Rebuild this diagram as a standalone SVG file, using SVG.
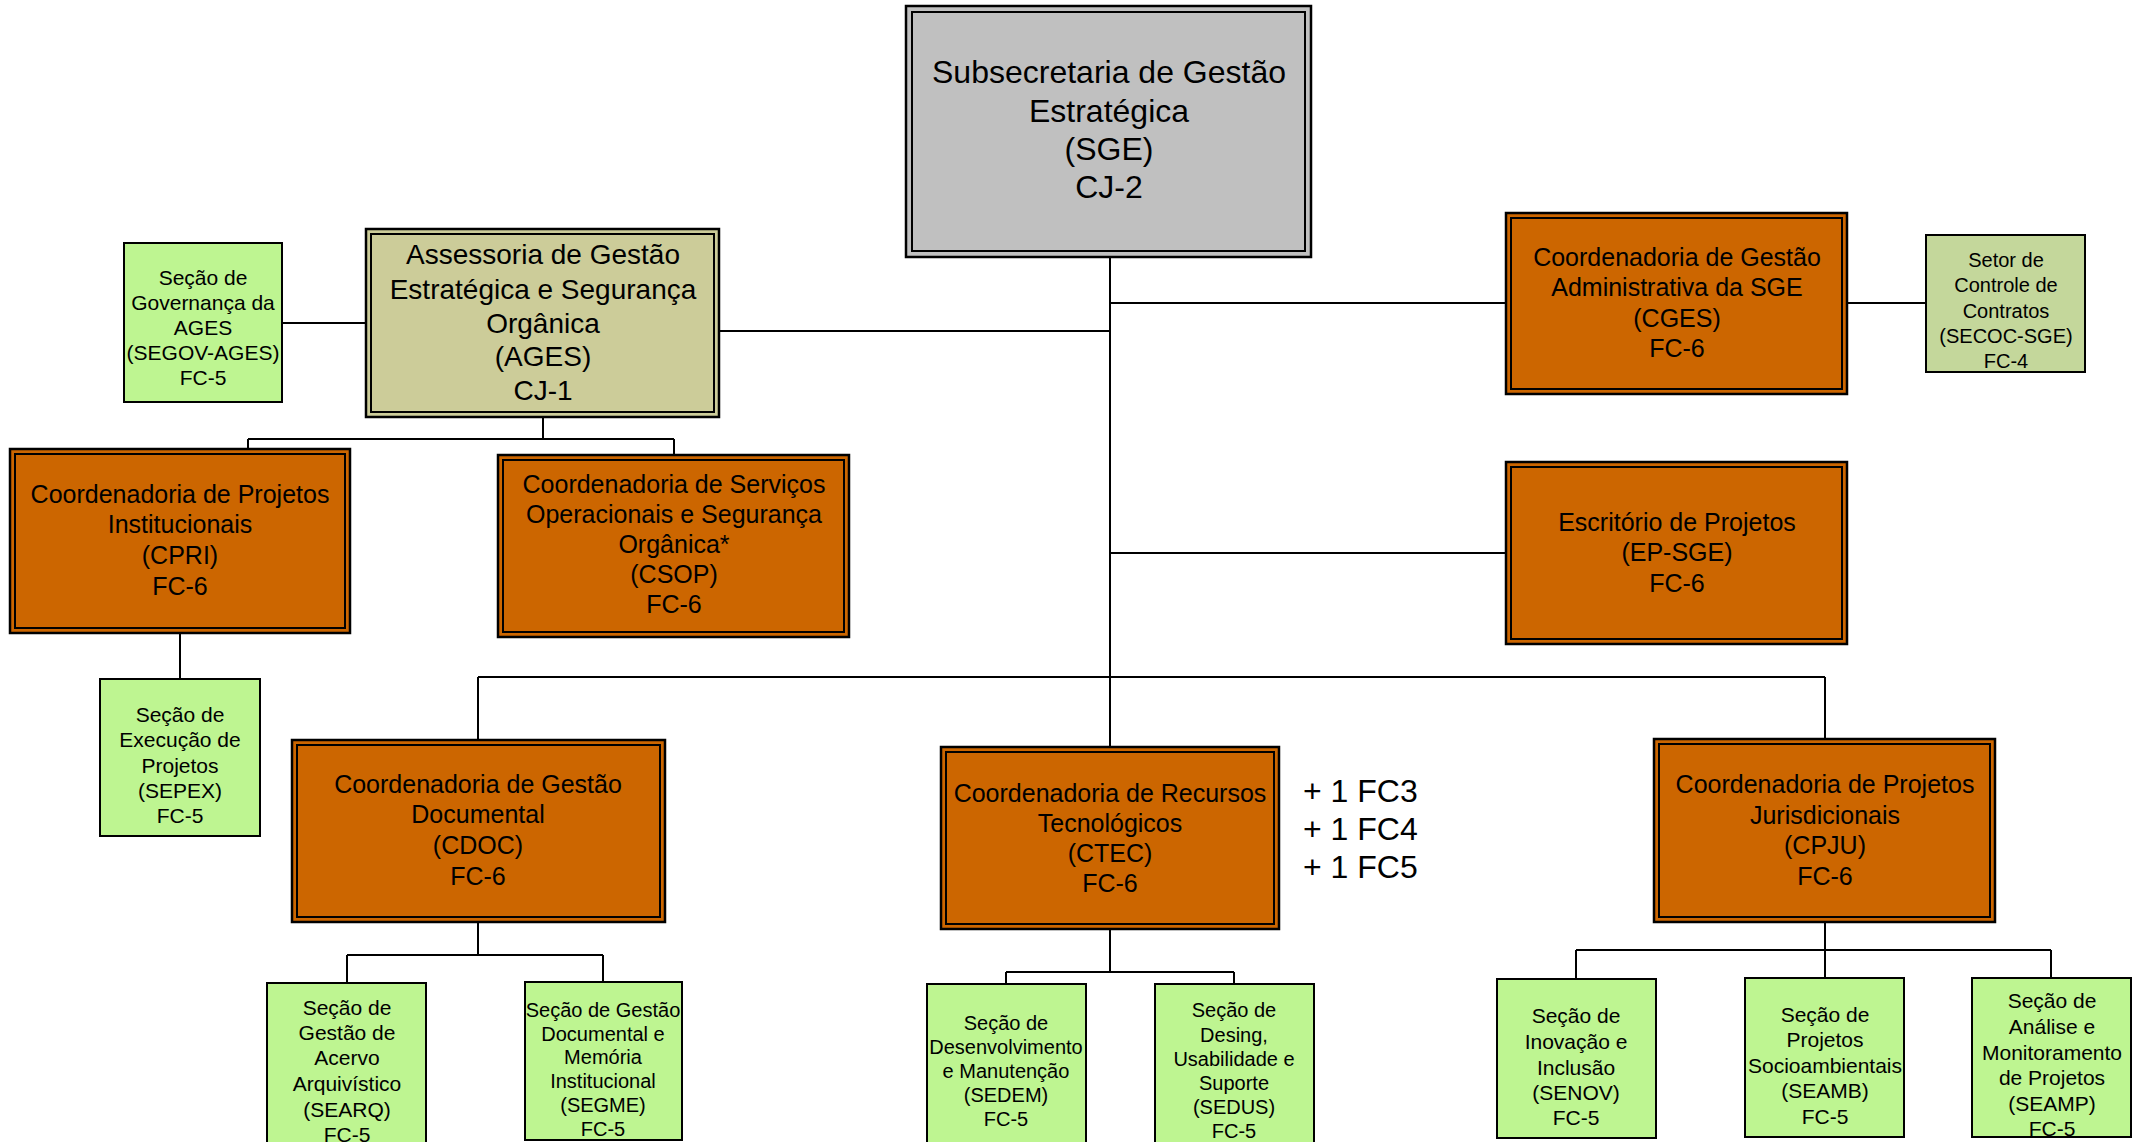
<svg xmlns="http://www.w3.org/2000/svg" width="2136" height="1142" viewBox="0 0 2136 1142">
<style>
text{font-family:"Liberation Sans",Arial,sans-serif;fill:#000;text-anchor:middle}
.con{fill:none;stroke:#000;stroke-width:2}
.out{stroke:#000;stroke-width:2.5}
.in{fill:none;stroke:#000;stroke-width:2}
.gray{fill:#C0C0C0}
.khaki{fill:#CCCC99}
.orange{fill:#CC6600}
.green{fill:#BEF591;stroke:#000;stroke-width:2}
.olive{fill:#C4D79B;stroke:#000;stroke-width:2}
.f32{font-size:32px}
.f28{font-size:28px}
.f25{font-size:25px}
.f21{font-size:21px}
.f20{font-size:20px}
</style>
<rect width="2136" height="1142" fill="#fff"/>
<g id="connectors">
<path class="con" d="M1110 257V747"/>
<path class="con" d="M719 331H1110"/>
<path class="con" d="M282 323H366"/>
<path class="con" d="M1110 303H1506M1847 303H1926"/>
<path class="con" d="M1110 553H1506"/>
<path class="con" d="M543 417V439M248 439H674M248 439V449M674 439V455"/>
<path class="con" d="M180 633V679"/>
<path class="con" d="M478 677H1825M478 677V740M1825 677V739"/>
<path class="con" d="M478 922V955M347 955H603M347 955V983M603 955V982"/>
<path class="con" d="M1110 929V972M1006 972H1234M1006 972V984M1234 972V984"/>
<path class="con" d="M1825 922V950M1576 950H2051M1576 950V979M1825 950V978M2051 950V978"/>
</g>
<g id="sge">
<rect class="out gray" x="906" y="6" width="405" height="251"/>
<rect class="in" x="912" y="12" width="393" height="239"/>
<text class="f32"><tspan x="1109" y="83">Subsecretaria de Gestão</tspan><tspan x="1109" y="122">Estratégica</tspan><tspan x="1109" y="160">(SGE)</tspan><tspan x="1109" y="198">CJ-2</tspan></text>
</g>
<g id="ages">
<rect class="out khaki" x="366" y="229" width="353" height="188"/>
<rect class="in" x="371" y="234" width="343" height="178"/>
<text class="f28"><tspan x="543" y="264">Assessoria de Gestão</tspan><tspan x="543" y="299">Estratégica e Segurança</tspan><tspan x="543" y="333">Orgânica</tspan><tspan x="543" y="366">(AGES)</tspan><tspan x="543" y="400">CJ-1</tspan></text>
</g>
<g id="segov">
<rect class="green" x="124" y="243" width="158" height="159"/>
<text class="f21"><tspan x="203" y="285">Seção de</tspan><tspan x="203" y="310">Governança da</tspan><tspan x="203" y="335">AGES</tspan><tspan x="203" y="360">(SEGOV-AGES)</tspan><tspan x="203" y="385">FC-5</tspan></text>
</g>
<g id="cges">
<rect class="out orange" x="1506" y="213" width="341" height="181"/>
<rect class="in" x="1511" y="218" width="331" height="171"/>
<text class="f25"><tspan x="1677" y="266">Coordenadoria de Gestão</tspan><tspan x="1677" y="296">Administrativa da SGE</tspan><tspan x="1677" y="327">(CGES)</tspan><tspan x="1677" y="357">FC-6</tspan></text>
</g>
<g id="secoc">
<rect class="olive" x="1926" y="235" width="159" height="137"/>
<text class="f20"><tspan x="2006" y="267">Setor de</tspan><tspan x="2006" y="292">Controle de</tspan><tspan x="2006" y="318">Contratos</tspan><tspan x="2006" y="343">(SECOC-SGE)</tspan><tspan x="2006" y="368">FC-4</tspan></text>
</g>
<g id="ep-sge">
<rect class="out orange" x="1506" y="462" width="341" height="182"/>
<rect class="in" x="1511" y="467" width="331" height="172"/>
<text class="f25"><tspan x="1677" y="531">Escritório de Projetos</tspan><tspan x="1677" y="561">(EP-SGE)</tspan><tspan x="1677" y="592">FC-6</tspan></text>
</g>
<g id="cpri">
<rect class="out orange" x="10" y="449" width="340" height="184"/>
<rect class="in" x="15" y="454" width="330" height="174"/>
<text class="f25"><tspan x="180" y="503">Coordenadoria de Projetos</tspan><tspan x="180" y="533">Institucionais</tspan><tspan x="180" y="564">(CPRI)</tspan><tspan x="180" y="595">FC-6</tspan></text>
</g>
<g id="csop">
<rect class="out orange" x="498" y="455" width="351" height="182"/>
<rect class="in" x="503" y="460" width="341" height="172"/>
<text class="f25"><tspan x="674" y="493">Coordenadoria de Serviços</tspan><tspan x="674" y="523">Operacionais e Segurança</tspan><tspan x="674" y="553">Orgânica*</tspan><tspan x="674" y="583">(CSOP)</tspan><tspan x="674" y="613">FC-6</tspan></text>
</g>
<g id="sepex">
<rect class="green" x="100" y="679" width="160" height="157"/>
<text class="f21"><tspan x="180" y="722">Seção de</tspan><tspan x="180" y="747">Execução de</tspan><tspan x="180" y="773">Projetos</tspan><tspan x="180" y="798">(SEPEX)</tspan><tspan x="180" y="823">FC-5</tspan></text>
</g>
<g id="cdoc">
<rect class="out orange" x="292" y="740" width="373" height="182"/>
<rect class="in" x="297" y="745" width="363" height="172"/>
<text class="f25"><tspan x="478" y="793">Coordenadoria de Gestão</tspan><tspan x="478" y="823">Documental</tspan><tspan x="478" y="854">(CDOC)</tspan><tspan x="478" y="885">FC-6</tspan></text>
</g>
<g id="ctec">
<rect class="out orange" x="941" y="747" width="338" height="182"/>
<rect class="in" x="946" y="752" width="328" height="172"/>
<text class="f25"><tspan x="1110" y="802">Coordenadoria de Recursos</tspan><tspan x="1110" y="832">Tecnológicos</tspan><tspan x="1110" y="862">(CTEC)</tspan><tspan x="1110" y="892">FC-6</tspan></text>
</g>
<g id="ctec-extra">
<text class="f32" style="text-anchor:start"><tspan x="1303" y="802">+ 1 FC3</tspan><tspan x="1303" y="840">+ 1 FC4</tspan><tspan x="1303" y="878">+ 1 FC5</tspan></text>
</g>
<g id="cpju">
<rect class="out orange" x="1654" y="739" width="341" height="183"/>
<rect class="in" x="1659" y="744" width="331" height="173"/>
<text class="f25"><tspan x="1825" y="793">Coordenadoria de Projetos</tspan><tspan x="1825" y="824">Jurisdicionais</tspan><tspan x="1825" y="854">(CPJU)</tspan><tspan x="1825" y="885">FC-6</tspan></text>
</g>
<g id="searq">
<rect class="green" x="267" y="983" width="159" height="170"/>
<text class="f21"><tspan x="347" y="1015">Seção de</tspan><tspan x="347" y="1040">Gestão de</tspan><tspan x="347" y="1065">Acervo</tspan><tspan x="347" y="1091">Arquivístico</tspan><tspan x="347" y="1117">(SEARQ)</tspan><tspan x="347" y="1142">FC-5</tspan></text>
</g>
<g id="segme">
<rect class="green" x="525" y="982" width="157" height="158"/>
<text class="f20"><tspan x="603" y="1017">Seção de Gestão</tspan><tspan x="603" y="1041">Documental e</tspan><tspan x="603" y="1064">Memória</tspan><tspan x="603" y="1088">Institucional</tspan><tspan x="603" y="1112">(SEGME)</tspan><tspan x="603" y="1136">FC-5</tspan></text>
</g>
<g id="sedem">
<rect class="green" x="927" y="984" width="159" height="170"/>
<text class="f20"><tspan x="1006" y="1030">Seção de</tspan><tspan x="1006" y="1054">Desenvolvimento</tspan><tspan x="1006" y="1078">e Manutenção</tspan><tspan x="1006" y="1102">(SEDEM)</tspan><tspan x="1006" y="1126">FC-5</tspan></text>
</g>
<g id="sedus">
<rect class="green" x="1155" y="984" width="159" height="170"/>
<text class="f20"><tspan x="1234" y="1017">Seção de</tspan><tspan x="1234" y="1042">Desing,</tspan><tspan x="1234" y="1066">Usabilidade e</tspan><tspan x="1234" y="1090">Suporte</tspan><tspan x="1234" y="1114">(SEDUS)</tspan><tspan x="1234" y="1138">FC-5</tspan></text>
</g>
<g id="senov">
<rect class="green" x="1497" y="979" width="159" height="159"/>
<text class="f21"><tspan x="1576" y="1023">Seção de</tspan><tspan x="1576" y="1049">Inovação e</tspan><tspan x="1576" y="1075">Inclusão</tspan><tspan x="1576" y="1100">(SENOV)</tspan><tspan x="1576" y="1125">FC-5</tspan></text>
</g>
<g id="seamb">
<rect class="green" x="1745" y="978" width="159" height="159"/>
<text class="f21"><tspan x="1825" y="1022">Seção de</tspan><tspan x="1825" y="1047">Projetos</tspan><tspan x="1825" y="1073">Socioambientais</tspan><tspan x="1825" y="1098">(SEAMB)</tspan><tspan x="1825" y="1124">FC-5</tspan></text>
</g>
<g id="seamp">
<rect class="green" x="1972" y="978" width="159" height="159"/>
<text class="f21"><tspan x="2052" y="1008">Seção de</tspan><tspan x="2052" y="1034">Análise e</tspan><tspan x="2052" y="1060">Monitoramento</tspan><tspan x="2052" y="1085">de Projetos</tspan><tspan x="2052" y="1111">(SEAMP)</tspan><tspan x="2052" y="1136">FC-5</tspan></text>
</g>
</svg>
